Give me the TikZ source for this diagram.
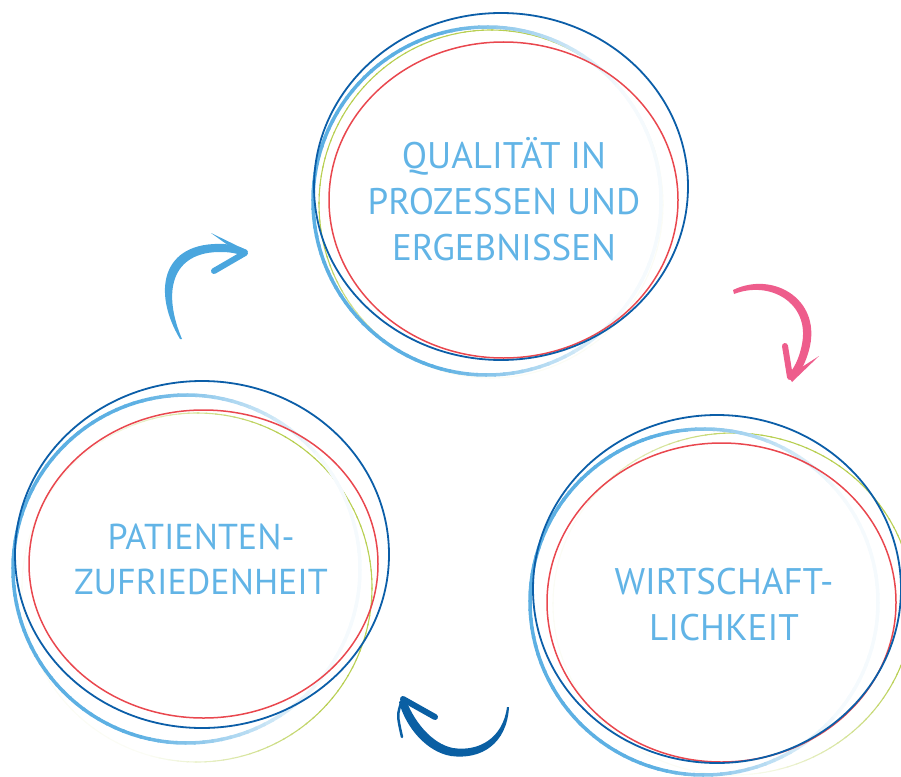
\documentclass[tikz,border=0pt]{standalone}
\usepackage{fontspec}
\newfontfamily\lightfont{PT Sans}
\definecolor{dblue}{HTML}{0B5EA8}
\definecolor{lblue}{HTML}{5DB0E3}
\definecolor{txtblue}{HTML}{62B4E6}
\definecolor{ringgreen}{HTML}{B8CF52}
\definecolor{ringred}{HTML}{E9474E}
\definecolor{pinkarrow}{HTML}{EE5D8C}
\definecolor{bluearrow}{HTML}{4AA6DE}
\definecolor{darkarrow}{HTML}{0A5FA3}
% #1 cx, #2 cy, #3 rx, #4 ry, #5 colour, #6 width, #7 strong angle, #8 base
\newcommand{\ringfade}[8]{%
  \foreach \a in {0,3,...,357}{%
    \pgfmathsetmacro{\p}{max(6,min(100,100*(#8+0.9*cos(\a+1.5-#7))))}%
    \draw[line width=#6, color=#5!\p!white] (#1,#2) ++(\a:#3 and #4)
      arc[start angle=\a, end angle=\a+3.6, x radius=#3, y radius=#4];
  }}
\tikzset{
  lbl/.style={align=center, text=txtblue, font=\lightfont\fontsize{37}{46}\selectfont},
  darkring/.style={draw=dblue, line width=1.8},
  redring/.style={draw=ringred, line width=1.5},
}
\begin{document}
\begin{tikzpicture}[x=1pt,y=-1pt]
\useasboundingbox (0,0) rectangle (901,776);
% ---- top group
\ringfade{491}{204}{172}{174}{ringgreen}{1.1}{225}{0.55}
\ringfade{487}{201}{174}{174}{lblue}{3.5}{180}{0.75}
\draw[redring] (503.5,200) ellipse [x radius=174.5, y radius=158];
\draw[darkring] (501,186.5) ellipse [x radius=187, y radius=173.5];
\node[lbl] (q) at (504,199.5) {QUALITÄT IN\\PROZESSEN UND\\ERGEBNISSEN};
% ---- left group
\ringfade{197}{587.5}{175}{174.5}{ringgreen}{1.1}{-10}{0.45}
\ringfade{186.5}{569}{173.5}{174}{lblue}{3.5}{180}{0.75}
\draw[redring] (203.5,564) ellipse [x radius=174.5, y radius=154];
\draw[darkring] (202,554.5) ellipse [x radius=187, y radius=173.5];
\node[lbl, font=\lightfont\fontsize{36}{45}\selectfont] (p) at (201,559) {PATIENTEN-\\ZUFRIEDENHEIT};
% ---- right group
\ringfade{733}{604}{180}{171}{ringgreen}{1.1}{-30}{0.45}
\ringfade{704}{602}{174}{173}{lblue}{3.5}{180}{0.75}
\draw[redring] (721.5,602.5) ellipse [x radius=174.5, y radius=159.5];
\draw[darkring] (717,589) ellipse [x radius=184, y radius=174];
\node[lbl] (w) at (724,605) {WIRTSCHAFT-\\LICHKEIT};
% ---- arrows
% blue arrow (top left)
\fill[bluearrow] (180,339) .. controls (152,292) and (161,241) .. (224,244)
  .. controls (234,245) and (241,247) .. (247,250) -- (246,256)
  .. controls (238,254) and (231,252) .. (222,252)
  .. controls (171,251) and (162,292) .. (182,339) -- cycle;
\draw[bluearrow, line width=6, line cap=round] (214,271) -- (245,253);
\fill[bluearrow] (211,233) -- (248,251) -- (243,256) -- cycle;
% pink arrow (right)
\fill[pinkarrow] (733,290) .. controls (772,271) and (820,298) .. (810,346)
  .. controls (806,364) and (799,374) .. (793,380) -- (787,376)
  .. controls (793,370) and (799,360) .. (802,344)
  .. controls (810,303) and (770,280) .. (734,294) -- cycle;
\draw[pinkarrow, line width=6, line cap=round] (785,346) -- (790,377);
\fill[pinkarrow] (788,376) -- (819,356) -- (792,382) -- cycle;
% dark blue arrow (bottom)
\fill[darkarrow] (509,707) .. controls (507,744) and (481,760) .. (451,756)
  .. controls (427,752) and (406,728) .. (399,702) -- (405,697)
  .. controls (413,721) and (432,744) .. (453,748)
  .. controls (479,752) and (503,738) .. (507,707) -- cycle;
\draw[darkarrow, line width=6, line cap=round] (403,699) -- (435,717);
\draw[darkarrow, line width=2.5, line cap=round] (402,700) .. controls (397,715) .. (402,737);
\end{tikzpicture}
\end{document}
